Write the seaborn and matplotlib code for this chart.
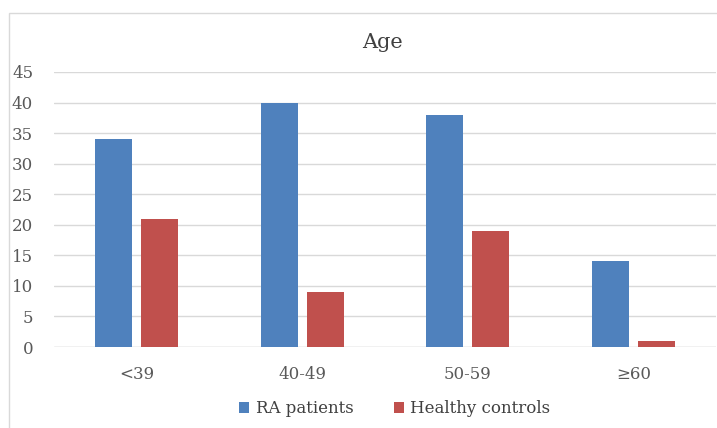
import numpy as np
import pandas as pd
import matplotlib
matplotlib.use('Agg')
import matplotlib.pyplot as plt
import seaborn as sns
from matplotlib.patches import Rectangle

# data
age_groups = ['<39', '40-49', '50-59', '≥60']
ra_patients = [34, 40, 38, 14]
healthy_controls = [21, 9, 19, 1]
series_names = ['RA patients', 'Healthy controls']
colors = ['#4F81BD', '#C0504D']
y_ticks = [0, 5, 10, 15, 20, 25, 30, 35, 40, 45]

df = pd.DataFrame({
    'group': age_groups * 2,
    'count': ra_patients + healthy_controls,
    'series': [series_names[0]] * 4 + [series_names[1]] * 4,
})

sns.set_theme(style='white')
plt.rcParams['font.family'] = ['DejaVu Serif', 'DejaVu Sans']

fig = plt.figure(figsize=(7.17, 4.28), dpi=100)
# faint chart-area border like the office export
fig.patches.append(Rectangle((9 / 717, -0.1), 1.2, 1 - 13 / 428 + 0.1,
                             transform=fig.transFigure, fill=False,
                             edgecolor='#D9D9D9', linewidth=1))
ax = fig.add_axes([54 / 717, 1 - 347 / 428, 662 / 717, 275 / 428])

sns.barplot(data=df, x='group', y='count', hue='series', palette=colors,
            width=0.555, gap=0.2, ax=ax, saturation=1, linewidth=0)

ax.set_ylim(0, 45)
ax.set_yticks(y_ticks)
ax.yaxis.grid(True, color='#D9D9D9', linewidth=1)
ax.set_axisbelow(True)
for s in ax.spines.values():
    s.set_visible(False)
ax.axhline(0, color='#D9D9D9', linewidth=1, zorder=0.5)
ax.set_xlabel('')
ax.set_ylabel('')
ax.tick_params(axis='both', length=0, colors='#595959', labelsize=12)
ax.tick_params(axis='x', pad=14)
ax.tick_params(axis='y', pad=15)

fig.text(0.534, 1 - 42 / 428, 'Age', ha='center', va='center',
         fontsize=15, color='#404040')

handles, labels = ax.get_legend_handles_labels()
ax.legend(handles, labels, loc='center', bbox_to_anchor=(0.515, -0.225),
          ncol=2, frameon=False, fontsize=12, handlelength=0.6,
          handleheight=0.6, handletextpad=0.4, columnspacing=2.4,
          labelcolor='#404040')

fig.savefig('out.png', dpi=100)
